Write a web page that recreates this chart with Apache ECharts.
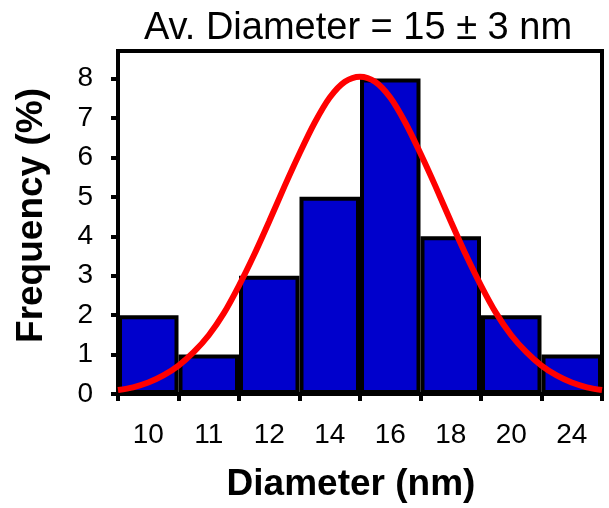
<!DOCTYPE html>
<html>
<head>
<meta charset="utf-8">
<script src="https://cdn.jsdelivr.net/npm/echarts@6/dist/echarts.min.js"></script>
<style>html,body{margin:0;padding:0;background:#fff}#c{width:609px;height:508px}</style>
</head>
<body>
<div id="c"></div>
<script>
// Data
var categories = ['10', '11', '12', '14', '16', '18', '20', '24'];
var frequency = [2, 1, 3, 5, 8, 4, 2, 1];
var yTicks = [0, 1, 2, 3, 4, 5, 6, 7, 8];
// Fitted curve: position along the category axis (bar index), frequency
var curveX = [-0.5, -0.25, 0, 0.25, 0.5, 0.75, 1, 1.25, 1.5, 1.75, 2, 2.25, 2.5, 2.75, 3, 3.25, 3.5,
              3.75, 4, 4.25, 4.5, 4.75, 5, 5.25, 5.5, 5.75, 6, 6.25, 6.5, 6.75, 7, 7.25, 7.5];
var curveY = [0.1, 0.17, 0.29, 0.47, 0.72, 1.06, 1.49, 2.05, 2.75, 3.53, 4.38, 5.26, 6.1, 6.88, 7.52, 7.92, 8.05,
              7.92, 7.52, 6.88, 6.1, 5.26, 4.38, 3.53, 2.75, 2.05, 1.49, 1.06, 0.72, 0.47, 0.29, 0.17, 0.1];

var curve = curveX.map(function (x, i) { return [x, curveY[i]]; });
var FONT = 'Liberation Sans, Arial, sans-serif';

var chart = echarts.init(document.getElementById('c'));
chart.setOption({
  animation: false,
  backgroundColor: '#fff',
  title: {
    text: 'Av. Diameter = 15 \u00b1 3 nm',
    left: 353, top: 5, textAlign: 'center',
    textStyle: { fontFamily: FONT, fontSize: 38, fontWeight: 'normal', color: '#000' }
  },
  grid: {
    left: 118, right: 7, top: 51, bottom: 109,
    show: true, borderColor: '#000', borderWidth: 4, backgroundColor: 'transparent'
  },
  xAxis: [{
    type: 'category', data: categories, boundaryGap: true,
    name: 'Diameter (nm)', nameLocation: 'middle', nameGap: 72,
    nameTextStyle: { fontFamily: FONT, fontSize: 37, fontWeight: 'bold', color: '#000', padding: [0, 18, 0, 0] },
    axisLine: { lineStyle: { color: '#000', width: 4 } },
    axisTick: { show: true, alignWithLabel: false, inside: false, length: 7, lineStyle: { color: '#000', width: 4 } },
    axisLabel: { margin: 27, fontFamily: FONT, fontSize: 28, color: '#000' },
    splitLine: { show: false }
  }, {
    type: 'value', min: -0.5, max: 7.5, show: false, splitLine: { show: false }
  }],
  yAxis: {
    type: 'value', min: 0, max: 8.7, interval: 1,
    name: 'Frequency (%)', nameLocation: 'middle', nameGap: 68,
    nameTextStyle: { fontFamily: FONT, fontSize: 37, fontWeight: 'bold', color: '#000', padding: [0, 0, 0, 14] },
    axisLine: { show: true, onZero: false, lineStyle: { color: '#000', width: 4 } },
    axisTick: { show: true, inside: false, length: 7, lineStyle: { color: '#000', width: 4 }, customValues: yTicks },
    axisLabel: { margin: 25, fontFamily: FONT, fontSize: 28, color: '#000', customValues: yTicks },
    splitLine: { show: false }
  },
  series: [{
    type: 'bar', data: frequency, barCategoryGap: '0%', xAxisIndex: 0,
    itemStyle: { color: '#0000CC', borderColor: '#000', borderWidth: 4 }
  }, {
    type: 'line', data: curve, xAxisIndex: 1, smooth: 0.3, showSymbol: false, symbol: 'none',
    lineStyle: { color: '#FF0000', width: 6 }, z: 5
  }]
});
</script>
</body>
</html>
